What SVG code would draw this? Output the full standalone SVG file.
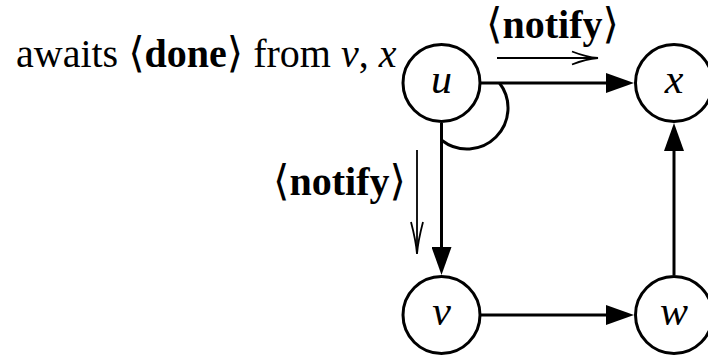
<svg xmlns="http://www.w3.org/2000/svg" width="708" height="357" viewBox="0 0 708 357">
<style>
.node{fill:#fff;stroke:#000;stroke-width:3}
.lbl{font-family:"Liberation Serif","DejaVu Serif",serif;font-style:italic;font-size:42px;text-anchor:middle;fill:#000}
.txt{font-family:"Liberation Serif","DejaVu Serif",serif;font-size:40px;fill:#000}
.ang{font-family:"DejaVu Sans","Liberation Serif",sans-serif;font-weight:normal;font-size:42px}
.edge{fill:none;stroke:#000;stroke-width:3}
.thin{fill:none;stroke:#000;stroke-width:1.8}
</style>
<defs>
<marker id="ah" markerUnits="userSpaceOnUse" markerWidth="28" markerHeight="20" refX="18" refY="10" orient="auto" viewBox="0 0 28 20">
<path d="M0,0 L28,10 L0,20 z" fill="#000"/>
</marker>
</defs>
<g id="connectors">
<line class="edge" x1="481" y1="83" x2="624" y2="83" marker-end="url(#ah)"/>
<line class="edge" x1="441.5" y1="123" x2="441.5" y2="265" marker-end="url(#ah)"/>
<line class="edge" x1="481" y1="315" x2="624" y2="315" marker-end="url(#ah)"/>
<line class="edge" x1="674" y1="275" x2="674" y2="133" marker-end="url(#ah)"/>
<path class="edge" d="M499.5,83 A41,41 0 0 1 442,140.5"/>
<path class="thin" d="M497,58 L597,58"/>
<path class="thin" d="M572,51.5 Q586,57 598,58 Q586,59 572,64.5"/>
<path class="thin" d="M417,150 L417,253"/>
<path class="thin" d="M411,222 Q416,241 417,254 Q418,241 423,222"/>
</g>
<g id="node-u"><circle class="node" cx="441.5" cy="83" r="38.5"/><text class="lbl" x="441.5" y="93">u</text></g>
<g id="node-x"><circle class="node" cx="674" cy="83" r="38.5"/><text class="lbl" x="674" y="93">x</text></g>
<g id="node-v"><circle class="node" cx="441.5" cy="315" r="38.5"/><text class="lbl" x="441.5" y="325">v</text></g>
<g id="node-w"><circle class="node" cx="674" cy="315" r="38.5"/><text class="lbl" x="674" y="325">w</text></g>
<g id="labels">
<text class="txt" x="16" y="67">awaits <tspan class="ang">⟨</tspan><tspan font-weight="bold">done</tspan><tspan class="ang">⟩</tspan> from <tspan font-style="italic">v</tspan>, <tspan font-style="italic">x</tspan></text>
<text class="txt" x="552.5" y="38" text-anchor="middle"><tspan class="ang">⟨</tspan><tspan font-weight="bold">notify</tspan><tspan class="ang">⟩</tspan></text>
<text class="txt" x="339.5" y="195" text-anchor="middle"><tspan class="ang">⟨</tspan><tspan font-weight="bold">notify</tspan><tspan class="ang">⟩</tspan></text>
</g>
</svg>
